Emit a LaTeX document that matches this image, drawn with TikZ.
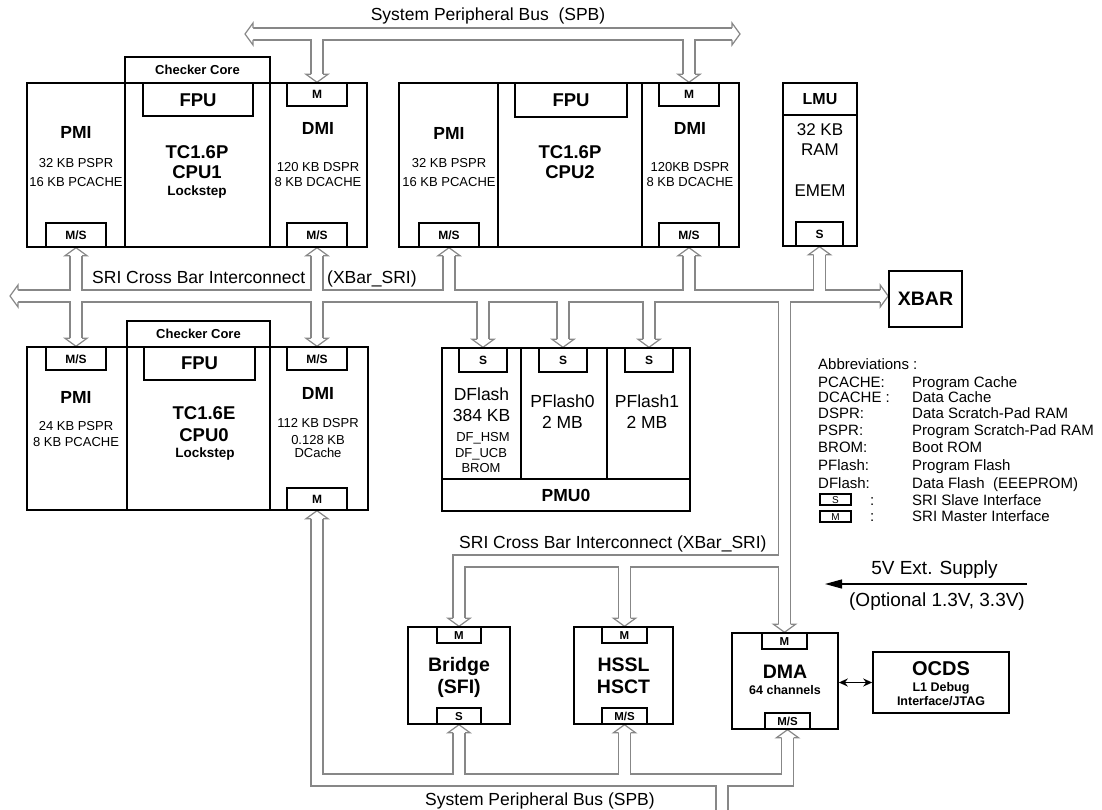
\documentclass[tikz,border=0pt]{standalone}
\usepackage{fontspec}
\setmainfont{Liberation Sans}
\usetikzlibrary{fit,arrows.meta}
\pgfdeclarelayer{bg}
\pgfsetlayers{bg,main}
\definecolor{busgray}{RGB}{135,135,135}
\newcommand{\fsz}[1]{\fontsize{#1}{#1}\selectfont}
\newcommand{\mybx}[6][blk]{\node[#1, fit={(#3,#4) (#5,#6)}] (#2) {};}
\newcommand{\mytx}[7][]{\node[inner sep=0pt, anchor=base, font=\fsz{#3}#4, #1] (#2) at (#5,{#6+0.358*#3}) {#7};}
\tikzset{
  blk/.style={draw, line width=1.6pt, inner sep=0pt},
  sbox/.style={draw, line width=1.4pt, inner sep=0pt, fill=white},
  bus/.style={},
  bushead/.pic={
    \fill[white] (0.5,0) -- (-8,11) -- (-8,-11) -- cycle;
    \draw[busgray, line width=1.2pt, line join=miter] (-8,6) -- (-8,11) -- (0,0) -- (-8,-11) -- (-8,-6);
  },
}
\newcommand{\allbus}{%
  \path[bus, shorten <=8pt, shorten >=8pt] (spbL) -- (spbR);
  \path[bus, shorten >=8pt] (m1.north |- spbL) -- (m1.north);
  \path[bus, shorten >=8pt] (m2.north |- spbL) -- (m2.north);
  \path[bus, shorten <=8pt, shorten >=8pt] (sriL) -- (xbar.west |- sriL);
  \path[bus, shorten <=8pt, shorten >=8pt] (ms1p.south) -- (ms0p.north);
  \path[bus, shorten <=8pt, shorten >=8pt] (ms1d.south) -- (ms0d.north);
  \path[bus, shorten >=8pt] (ms2p.south |- sriL) -- (ms2p.south);
  \path[bus, shorten >=8pt] (ms2d.south |- sriL) -- (ms2d.south);
  \path[bus, shorten >=8pt] (lmus.south |- sriL) -- (lmus.south);
  \path[bus, shorten >=8pt] (s1.north |- sriL) -- (s1.north);
  \path[bus, shorten >=8pt] (s2.north |- sriL) -- (s2.north);
  \path[bus, shorten >=8pt] (s3.north |- sriL) -- (s3.north);
  \path[bus, shorten >=8pt] (dmam.north |- sriL) -- (dmam.north);
  \path[bus, shorten >=8pt] (dmam.north |- sriB) -- (brm.north |- sriB) -- (brm.north);
  \path[bus, shorten >=8pt] (hsm.north |- sriB) -- (hsm.north);
  \path[bus, shorten <=8pt, shorten >=8pt] (m0.south) -- (m0.south |- spbB) -- (dmams.south |- spbB) -- (dmams.south);
  \path[bus, shorten >=8pt] (brs.south |- spbB) -- (brs.south);
  \path[bus, shorten >=8pt] (hsms.south |- spbB) -- (hsms.south);
  \path[bus] (spbOut |- spbB) -- (spbOut);
}
\begin{document}
\begin{tikzpicture}[x=1pt,y=-1pt]
\useasboundingbox (0,0) rectangle (1102,810);
% ---------- CPU1
\mybx{chk1}{125}{57}{270}{83}
\mybx{pmi1}{27}{83}{125}{247}
\mybx{core1}{125}{83}{270}{247}
\mybx{dmi1}{270}{83}{367}{247}
\mybx[sbox]{fpu1}{143}{83}{253}{116}
\mybx[sbox]{m1}{287}{83}{347}{106}
\mybx[sbox]{ms1p}{46}{223}{106}{247}
\mybx[sbox]{ms1d}{287}{223}{347}{247}
% ---------- CPU2
\mybx{pmi2}{399}{83}{498}{247}
\mybx{core2}{498}{83}{642}{247}
\mybx{dmi2}{642}{83}{739}{247}
\mybx[sbox]{fpu2}{515}{83}{627}{117}
\mybx[sbox]{m2}{659}{83}{719}{106}
\mybx[sbox]{ms2p}{419}{223}{479}{247}
\mybx[sbox]{ms2d}{659}{223}{719}{247}
% ---------- LMU, XBAR
\mybx{lmu}{783}{83}{857}{246}
\mybx{lmuh}{783}{83}{857}{115}
\mybx[sbox]{lmus}{796}{222}{843}{246}
\mybx{xbar}{889}{271}{962}{327}
% ---------- CPU0
\mybx{chk0}{127}{321}{270}{347}
\mybx{pmi0}{27}{347}{127}{510}
\mybx{core0}{127}{347}{270}{510}
\mybx{dmi0}{270}{347}{368}{510}
\mybx[sbox]{fpu0}{144}{347}{255}{380}
\mybx[sbox]{ms0p}{46}{347}{106}{370}
\mybx[sbox]{ms0d}{287}{347}{347}{370}
\mybx[sbox]{m0}{287}{488}{347}{510}
% ---------- PMU0
\mybx{dfl}{442}{348}{521}{479}
\mybx{pf0}{521}{348}{607}{479}
\mybx{pf1}{607}{348}{690}{479}
\mybx{pmu}{442}{479}{690}{511}
\mybx[sbox]{s1}{459}{348}{507}{372}
\mybx[sbox]{s2}{539}{348}{587}{372}
\mybx[sbox]{s3}{625}{348}{673}{372}
% ---------- Bridge, HSSL, DMA, OCDS
\mybx{br}{408}{627}{510}{724}
\mybx[sbox]{brm}{437}{627}{481}{643}
\mybx[sbox]{brs}{437}{708}{481}{724}
\mybx{hs}{574}{627}{673}{724}
\mybx[sbox]{hsm}{602}{627}{647}{643}
\mybx[sbox]{hsms}{602}{708}{647}{724}
\mybx{dma}{732}{633}{838}{729}
\mybx[sbox]{dmam}{762}{633}{807}{649}
\mybx[sbox]{dmams}{765}{713}{810}{729}
\mybx{ocds}{873}{652}{1009}{713}
% ---------- legend icons
\mybx[sbox, line width=1.3pt]{abs}{820}{494}{851}{505}
\mybx[sbox, line width=1.3pt]{abm}{820}{511}{851}{522}
% ---------- bus coordinates
\coordinate (spbL) at (245,34);
\coordinate (spbR) at (740,34);
\coordinate (sriL) at (10,296);
\coordinate (sriB) at (0,561);
\coordinate (spbB) at (0,780);
\coordinate (spbOut) at (722,810);
\begin{pgfonlayer}{bg}
  \tikzset{bus/.style={draw=busgray, line width=13.2pt, line join=miter}}
  \allbus
  \tikzset{bus/.style={draw=white, line width=10.8pt, line join=miter}}
  \allbus
  \path (spbL) pic[rotate=180]{bushead};
  \path (spbR) pic{bushead};
  \path (m1.north) pic[rotate=-90]{bushead};
  \path (m2.north) pic[rotate=-90]{bushead};
  \path (sriL) pic[rotate=180]{bushead};
  \path (xbar.west |- sriL) pic{bushead};
  \foreach \n in {ms1p,ms1d,ms2p,ms2d,lmus,m0,brs,hsms,dmams}
    {\path (\n.south) pic[rotate=90]{bushead};}
  \foreach \n in {ms0p,ms0d,s1,s2,s3,dmam,brm,hsm}
    {\path (\n.north) pic[rotate=-90]{bushead};}
\end{pgfonlayer}
% ---------- other arrows
\draw[{Stealth[length=9pt,width=8pt]}-{Stealth[length=9pt,width=8pt]}, line width=1.5pt] (ocds.west -| dma.east) -- (ocds.west);
\coordinate (supA) at (1027,584);
\coordinate (supB) at (825,584);
\draw[-{Triangle[length=17pt,width=9pt]}, line width=1.2pt] (supA) -- (supB);
% ---------- texts
\mytx{spbt}{17.5}{}{488}{14}{System Peripheral Bus\ \ (SPB)}
\mytx{tchk1}{13}{\bfseries}{197.5}{70}{Checker Core}
\mytx{tfpu1}{18.5}{\bfseries}{198}{100}{FPU}
\mytx{tpmi1}{17.5}{\bfseries}{76}{132}{PMI}
\mytx{tpmi1a}{13}{}{76}{163}{32 KB PSPR}
\mytx{tpmi1b}{13}{}{76}{182}{16 KB PCACHE}
\mytx{tc1a}{18.5}{\bfseries}{197}{152}{TC1.6P}
\mytx{tc1b}{18.5}{\bfseries}{197}{172}{CPU1}
\mytx{tc1c}{13.5}{\bfseries}{197}{191}{Lockstep}
\mytx{tdmi1}{17.5}{\bfseries}{318}{128}{DMI}
\mytx{tdmi1a}{13}{}{318}{167}{120 KB DSPR}
\mytx{tdmi1b}{13}{}{318}{182}{8 KB DCACHE}
\mytx{tm1}{12}{\bfseries}{317}{94}{M}
\mytx{tms1p}{12}{\bfseries}{76}{235}{M/S}
\mytx{tms1d}{12}{\bfseries}{317}{235}{M/S}
%
\mytx{tfpu2}{18.5}{\bfseries}{571}{100}{FPU}
\mytx{tpmi2}{17.5}{\bfseries}{449}{133}{PMI}
\mytx{tpmi2a}{13}{}{449}{163}{32 KB PSPR}
\mytx{tpmi2b}{13}{}{449}{182}{16 KB PCACHE}
\mytx{tc2a}{18.5}{\bfseries}{570}{152}{TC1.6P}
\mytx{tc2b}{18.5}{\bfseries}{570}{172}{CPU2}
\mytx{tdmi2}{17.5}{\bfseries}{690}{128}{DMI}
\mytx{tdmi2a}{13}{}{690}{167}{120KB DSPR}
\mytx{tdmi2b}{13}{}{690}{182}{8 KB DCACHE}
\mytx{tm2}{12}{\bfseries}{689}{94}{M}
\mytx{tms2p}{12}{\bfseries}{449}{235}{M/S}
\mytx{tms2d}{12}{\bfseries}{689}{235}{M/S}
%
\mytx{tlmu}{16}{\bfseries}{820}{99}{LMU}
\mytx{tlmua}{17}{}{820}{129}{32 KB}
\mytx{tlmub}{17}{}{820}{149}{RAM}
\mytx{tlmuc}{17}{}{820}{190}{EMEM}
\mytx{tlmus}{12}{\bfseries}{819.5}{234}{S}
\mytx{txbar}{19.5}{\bfseries}{925.5}{299}{XBAR}
\mytx[anchor=base west]{tsri}{17.5}{}{92}{277}{SRI Cross Bar Interconnect}
\mytx[anchor=base west]{tsrib}{17.5}{}{327}{277}{(XBar\_SRI)}
%
\mytx{tchk0}{13}{\bfseries}{198.5}{334}{Checker Core}
\mytx{tfpu0}{18.5}{\bfseries}{199.5}{363}{FPU}
\mytx{tms0p}{12}{\bfseries}{76}{359}{M/S}
\mytx{tms0d}{12}{\bfseries}{317}{359}{M/S}
\mytx{tpmi0}{17.5}{\bfseries}{76}{397}{PMI}
\mytx{tpmi0a}{13}{}{76}{426}{24 KB PSPR}
\mytx{tpmi0b}{13}{}{76}{442}{8 KB PCACHE}
\mytx{tc0a}{18.5}{\bfseries}{204}{413}{TC1.6E}
\mytx{tc0b}{18.5}{\bfseries}{204}{435}{CPU0}
\mytx{tc0c}{13.5}{\bfseries}{205}{453}{Lockstep}
\mytx{tdmi0}{17.5}{\bfseries}{318}{393}{DMI}
\mytx{tdmi0a}{13}{}{318}{423}{112 KB DSPR}
\mytx{tdmi0b}{13}{}{318}{440}{0.128 KB}
\mytx{tdmi0c}{13}{}{318}{453}{DCache}
\mytx{tm0}{12}{\bfseries}{317}{499}{M}
%
\mytx{ts1}{12}{\bfseries}{483}{360}{S}
\mytx{ts2}{12}{\bfseries}{563}{360}{S}
\mytx{ts3}{12}{\bfseries}{649}{360}{S}
\mytx{tdfa}{17.5}{}{481.5}{394}{DFlash}
\mytx{tdfb}{17.5}{}{481.5}{415}{384 KB}
\mytx{tdfc}{13}{}{483}{437}{DF\_HSM}
\mytx{tdfd}{13}{}{481}{453}{DF\_UCB}
\mytx{tdfe}{13}{}{481}{468}{BROM}
\mytx{tpf0a}{17.5}{}{562.5}{401}{PFlash0}
\mytx{tpf0b}{17.5}{}{562.5}{422}{2 MB}
\mytx{tpf1a}{17.5}{}{647}{401}{PFlash1}
\mytx{tpf1b}{17.5}{}{647}{422}{2 MB}
\mytx{tpmu}{17.5}{\bfseries}{566}{495}{PMU0}
%
\mytx[anchor=base west]{tab}{15}{}{818}{364}{Abbreviations :}
\mytx[anchor=base west]{ta1}{15}{}{818}{382}{PCACHE:}
\mytx[anchor=base west]{ta2}{15}{}{818}{397}{DCACHE :}
\mytx[anchor=base west]{ta3}{15}{}{818}{413}{DSPR:}
\mytx[anchor=base west]{ta4}{15}{}{818}{430}{PSPR:}
\mytx[anchor=base west]{ta5}{15}{}{818}{447}{BROM:}
\mytx[anchor=base west]{ta6}{15}{}{818}{465}{PFlash:}
\mytx[anchor=base west]{ta7}{15}{}{818}{483}{DFlash:}
\mytx{tas}{10}{}{835.5}{499.5}{S}
\mytx{tam}{10}{}{835.5}{516.5}{M}
\mytx[anchor=base west]{tac1}{15}{}{870}{500}{:}
\mytx[anchor=base west]{tac2}{15}{}{870}{516}{:}
\mytx[anchor=base west]{tb1}{15}{}{912}{382}{Program Cache}
\mytx[anchor=base west]{tb2}{15}{}{912}{397}{Data Cache}
\mytx[anchor=base west]{tb3}{15}{}{912}{413}{Data Scratch-Pad RAM}
\mytx[anchor=base west]{tb4}{15}{}{912}{430}{Program Scratch-Pad RAM}
\mytx[anchor=base west]{tb5}{15}{}{912}{447}{Boot ROM}
\mytx[anchor=base west]{tb6}{15}{}{912}{465}{Program Flash}
\mytx[anchor=base west]{tb7}{15}{}{912}{483}{Data Flash\ \ (EEEPROM)}
\mytx[anchor=base west]{tb8}{15}{}{912}{500}{SRI Slave Interface}
\mytx[anchor=base west]{tb9}{15}{}{912}{516}{SRI Master Interface}
%
\mytx{tsup}{19}{}{934.5}{568}{5V Ext. Supply}
\mytx{topt}{19}{}{937}{600}{(Optional 1.3V, 3.3V)}
\mytx[anchor=base west]{tsri2}{17.5}{}{459}{542}{SRI Cross Bar Interconnect (XBar\_SRI)}
%
\mytx{tbrm}{11.5}{\bfseries}{459}{635}{M}
\mytx{tbra}{19.5}{\bfseries}{459}{665}{Bridge}
\mytx{tbrb}{19.5}{\bfseries}{459}{687}{(SFI)}
\mytx{tbrs}{11.5}{\bfseries}{459}{716}{S}
\mytx{thsm}{11.5}{\bfseries}{624.5}{635}{M}
\mytx{thsa}{19.5}{\bfseries}{623.5}{665}{HSSL}
\mytx{thsb}{19.5}{\bfseries}{623.5}{687}{HSCT}
\mytx{thsms}{11.5}{\bfseries}{624.5}{716}{M/S}
\mytx{tdmam}{11.5}{\bfseries}{784.5}{641}{M}
\mytx{tdmaa}{19.5}{\bfseries}{785}{672}{DMA}
\mytx{tdmab}{12.5}{\bfseries}{785}{690}{64 channels}
\mytx{tdmams}{11.5}{\bfseries}{787.5}{721}{M/S}
\mytx{tocda}{20}{\bfseries}{941}{668}{OCDS}
\mytx{tocdb}{12.5}{\bfseries}{941}{687}{L1 Debug}
\mytx{tocdc}{12.5}{\bfseries}{941}{701}{Interface/JTAG}
\mytx{spbt2}{17.5}{}{540}{799}{System Peripheral Bus (SPB)}
\end{tikzpicture}
\end{document}
